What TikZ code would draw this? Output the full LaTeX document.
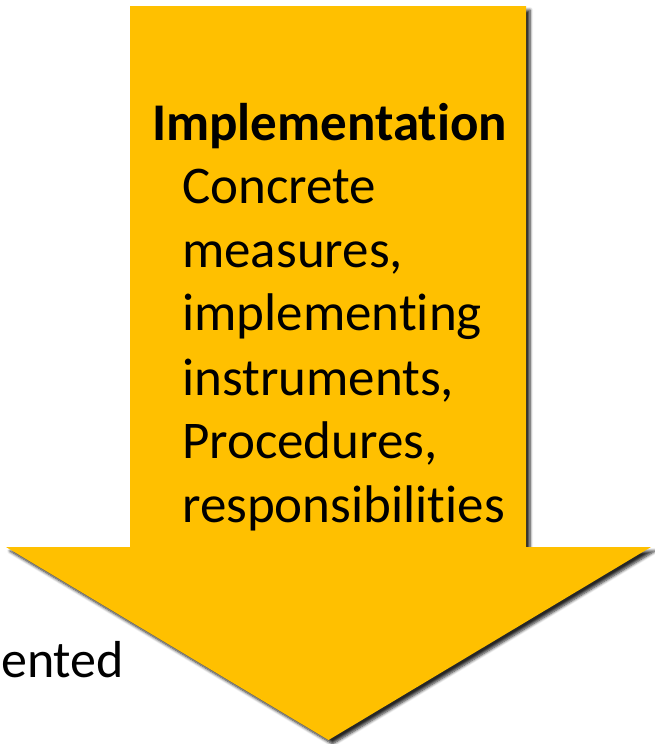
\documentclass[tikz,border=0pt]{standalone}
\usepackage{fontspec}
\setmainfont{Carlito}[Ligatures={NoCommon}]
\usetikzlibrary{shadows.blur}
\definecolor{gold}{HTML}{FFC000}
\tikzset{
  arrowshape/.style={fill=gold, draw=none, blur shadow={shadow xshift=4pt, shadow yshift=-4pt, shadow blur radius=3pt, shadow blur steps=6, shadow opacity=85}},
  titletext/.style={font=\fontsize{53}{64}\selectfont\bfseries, anchor=base west, inner sep=0pt},
  bodytext/.style={font=\fontsize{53}{64}\selectfont, anchor=base west, inner sep=0pt, align=left}
}
\begin{document}
\begin{tikzpicture}[x=1pt,y=-1pt]
\useasboundingbox (0,0) rectangle (654,744);
\path[arrowshape] (130,6) -- (526,6) -- (526,547) -- (651,547) -- (328.5,740) -- (6,547) -- (130,547) -- cycle;
\node[titletext] (title) at (152,140) {Implementation};
\node[bodytext] (l1) at (182,203) {Concrete};
\node[bodytext] (l2) at (182,267) {measures,};
\node[bodytext] (l3) at (182,330) {implementing};
\node[bodytext] (l4) at (182,395) {instruments,};
\node[bodytext] (l5) at (182,458) {Procedures,};
\node[bodytext] (l6) at (182,522) {responsibilities};
\node[bodytext, font=\fontsize{52}{64}\selectfont] (left) at (1,677) {ented};
\end{tikzpicture}
\end{document}
